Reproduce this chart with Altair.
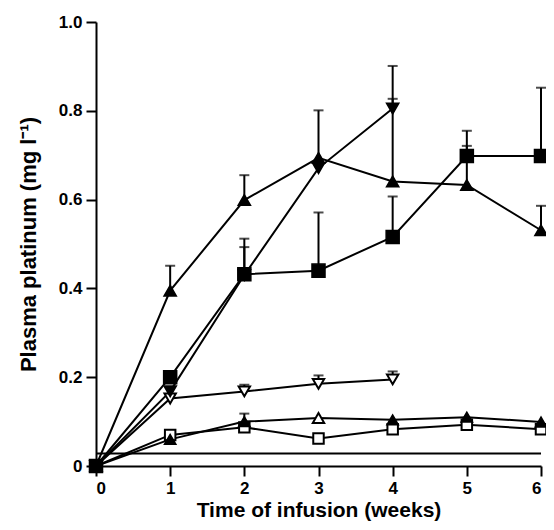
import altair as alt
import pandas as pd

weeks = [0, 1, 2, 3, 4, 5, 6]
weeks_short = [0, 1, 2, 3, 4]

tri_up_filled = [0, 0.395, 0.599, 0.694, 0.641, 0.633, 0.531]
tri_up_filled_err = [None, 0.451, 0.655, 0.801, 0.901, 0.721, 0.586]

square_filled = [0, 0.200, 0.432, 0.440, 0.516, 0.698, 0.698]
square_filled_err = [None, None, 0.512, 0.571, 0.607, 0.755, 0.852]

tri_dn_filled = [0, 0.168, 0.430, 0.671, 0.805]
tri_dn_filled_err = [None, None, 0.493, None, 0.827]

tri_dn_open = [0, 0.152, 0.168, 0.185, 0.195]
tri_dn_open_err = [None, None, 0.183, 0.204, 0.213]

tri_up_low = [0, 0.060, 0.100, 0.108, 0.104, 0.110, 0.099]
tri_up_low_err = [None, None, 0.118, None, None, None, None]
tri_up_low_open_weeks = [3]

square_open = [0, 0.070, 0.087, 0.062, 0.083, 0.093, 0.083]

detection_limit = 0.028

x_ticks = [0, 1, 2, 3, 4, 5, 6]
y_ticks = [0, 0.2, 0.4, 0.6, 0.8, 1.0]

FONT = "Liberation Sans"

series = [
    # name, weeks, values, errors, shape, filled, size
    ("sq_open", weeks, square_open, [None] * 7, "square", False, 110),
    ("tri_low", weeks, tri_up_low, tri_up_low_err, "triangle-up", True, 130),
    ("tri_dn_open", weeks_short, tri_dn_open, tri_dn_open_err, "triangle-down", False, 130),
    ("tri_dn_filled", weeks_short, tri_dn_filled, tri_dn_filled_err, "triangle-down", True, 150),
    ("sq_filled", weeks, square_filled, square_filled_err, "square", True, 170),
    ("tri_up_filled", weeks, tri_up_filled, tri_up_filled_err, "triangle-up", True, 150),
]

frames = []
for name, wk, vals, errs, shape, filled, size in series:
    frames.append(pd.DataFrame({"week": wk, "value": vals, "err": errs, "series": name}))
df = pd.concat(frames, ignore_index=True)

xs = alt.Scale(domain=[0, 6], nice=False)
ys = alt.Scale(domain=[0, 1], nice=False)

x_axis = alt.Axis(values=x_ticks, format="d", title="Time of infusion (weeks)",
                  titlePadding=3, titleFontSize=21)
y_axis = alt.Axis(values=y_ticks, title="Plasma platinum (mg l\u207b\u00b9)",
                  labelExpr="datum.value == 0 ? '0' : format(datum.value, '.1f')",
                  titlePadding=18, titleFontSize=22)

base = alt.Chart(df)

lines = base.mark_line(color="black", strokeWidth=2).encode(
    x=alt.X("week:Q", scale=xs, axis=x_axis),
    y=alt.Y("value:Q", scale=ys, axis=y_axis),
    detail="series:N",
)

limit_df = pd.DataFrame({"x0": [min(x_ticks)], "x1": [max(x_ticks)], "y": [detection_limit]})
limit = alt.Chart(limit_df).mark_rule(color="black", strokeWidth=2).encode(
    x=alt.X("x0:Q", scale=xs), x2="x1:Q", y=alt.Y("y:Q", scale=ys)
)

err_df = df.dropna(subset=["err"])
err_rules = alt.Chart(err_df).mark_rule(color="black", strokeWidth=2).encode(
    x=alt.X("week:Q", scale=xs), y=alt.Y("value:Q", scale=ys), y2="err:Q"
)
err_caps = alt.Chart(err_df).mark_tick(color="black", orient="horizontal",
                                       thickness=2, size=10).encode(
    x=alt.X("week:Q", scale=xs), y=alt.Y("err:Q", scale=ys)
)

layers = [limit, lines, err_rules, err_caps]
for name, wk, vals, errs, shape, filled, size in series:
    sub = df[df["series"] == name]
    if name == "tri_low":
        sub_f = sub[~sub["week"].isin(tri_up_low_open_weeks)]
        sub_o = sub[sub["week"].isin(tri_up_low_open_weeks)]
        layers.append(alt.Chart(sub_f).mark_point(shape=shape, filled=True, fill="black",
                                                  stroke="black", strokeWidth=1.5, size=size, opacity=1).encode(
            x=alt.X("week:Q", scale=xs), y=alt.Y("value:Q", scale=ys)))
        layers.append(alt.Chart(sub_o).mark_point(shape=shape, filled=True, fill="white",
                                                  stroke="black", strokeWidth=2, size=size, opacity=1).encode(
            x=alt.X("week:Q", scale=xs), y=alt.Y("value:Q", scale=ys)))
        continue
    if filled:
        m = alt.Chart(sub).mark_point(shape=shape, filled=True, fill="black", stroke="black",
                                      strokeWidth=1.5, size=size, opacity=1)
    else:
        m = alt.Chart(sub).mark_point(shape=shape, filled=True, fill="white", stroke="black",
                                      strokeWidth=2, size=size, opacity=1)
    layers.append(m.encode(x=alt.X("week:Q", scale=xs), y=alt.Y("value:Q", scale=ys)))

chart = alt.layer(*layers).properties(
    width=445, height=444,
    autosize=alt.AutoSizeParams(type="none"),
    padding={"left": 88, "top": 14, "right": 5, "bottom": 56},
).configure_view(stroke=None).configure_axis(
    grid=False,
    domainColor="black", domainWidth=2,
    tickColor="black", tickWidth=2, tickSize=10,
    labelFont=FONT, labelFontWeight="bold", labelFontSize=17, labelColor="black",
    labelPadding=4,
    titleFont=FONT, titleFontWeight="bold", titleColor="black",
)

chart.save("out.html", embed_options={"renderer": "svg", "actions": False})
